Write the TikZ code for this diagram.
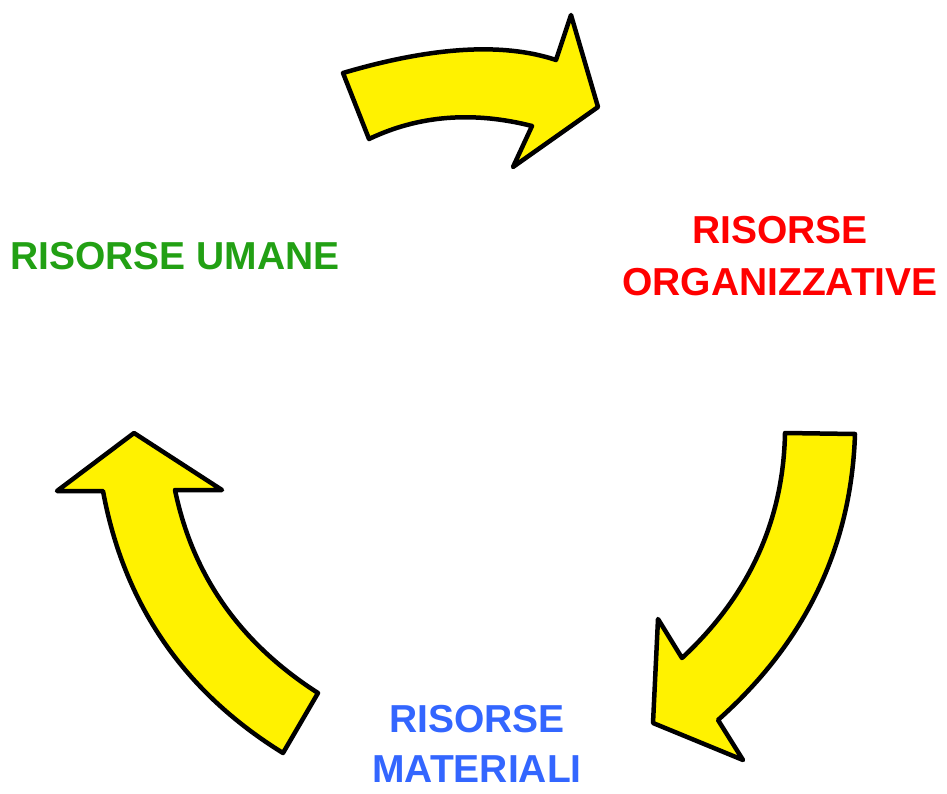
\documentclass[tikz,border=0pt]{standalone}
\usepackage{fontspec}
\setmainfont{Liberation Sans}
\definecolor{umane}{RGB}{34,160,20}
\definecolor{organ}{RGB}{255,0,0}
\definecolor{mater}{RGB}{51,102,255}
\begin{document}
\begin{tikzpicture}[x=1pt,y=-1pt]
		\newcommand{\edgew}{4.5pt} % width of the outlines
		
		% set the styles of the arrows and the labels
		\tikzset{
			block/.style={
				fill=yellow,
				draw=black,
				line width=\edgew,
				line join=round
				},
			resource/.style={
				inner sep=0pt,
				align=center,
				font=\fontsize{39}{52}\selectfont\bfseries
				}
		}
		
		\useasboundingbox (0,0) rectangle (947,794);
		
		% arrows
		\draw[block] (343,73) -- (369,139)
			.. controls (418.7,115.3) and (473,111) .. (532,126)
			-- (513,167) -- (598,107) -- (571,15) -- (556,60)
			.. controls (503,42.3) and (432,46.7) .. cycle;
		\draw[block] (785,433) -- (855,434)
			.. controls (851.3,546.7) and (805.7,642) .. (718,720)
			-- (743,760) -- (653,723) -- (658,619) -- (682,658)
			.. controls (749,595.7) and (783.3,520.7) .. cycle;
		\draw[block] (134,433) -- (222,490) -- (175,490)
			.. controls (192.7,575.7) and (240.3,643.3) .. (318,693)
			-- (283,753)
			.. controls (183.9,691.8) and (123.9,604.5) .. (103,491)
			-- (57,491) -- cycle;
		
		% labels
		\node[resource, text=umane] (umane) at (175,256) {RISORSE UMANE};
		\node[resource, text=organ] (organ) at (780,256.5) {RISORSE\\ORGANIZZATIVE};
		\node[resource, text=mater, font=\fontsize{39}{50}\selectfont\bfseries] (mater) at (477,744) {RISORSE\\MATERIALI};
		
\end{tikzpicture}
\end{document}
